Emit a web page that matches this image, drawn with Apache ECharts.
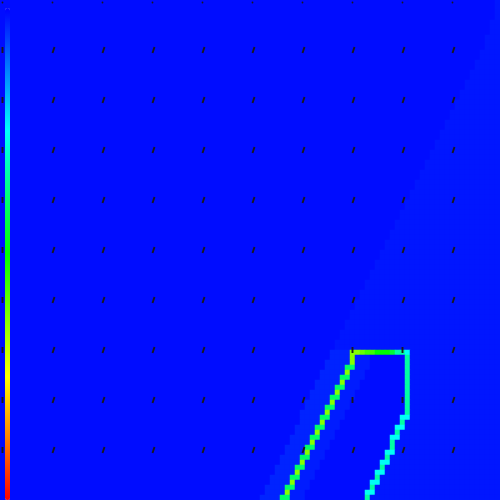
<!DOCTYPE html>
<html><head><meta charset="utf-8">
<script src="https://cdn.jsdelivr.net/npm/echarts@6/dist/echarts.min.js"></script>
<style>html,body{margin:0;padding:0;background:#fff}#c{width:500px;height:500px}</style>
</head><body><div id="c"></div>
<script>
// grid categories (100 x 100 cells), rows counted from the top
const xCategories = Array.from({length: 100}, (_, i) => i);
const yCategories = Array.from({length: 100}, (_, i) => i);

// value level codes
const levelCodes  = ['a',   'b',   'l',   'i',   'y',  'g',  's',  'c',  'h',  'j',  'k',  'm'];
const levelValues = [0.012, 0.022, 0.034, 0.027, 0.63, 0.40, 0.34, 0.26, 0.60, 0.56, 0.50, 0.45];

// run-length rows (top to bottom): code + count
const rowRuns = [
"a99 b1","a99 b1","a99 b1","a99 b1","a98 b2","a98 b2","a98 b2","a97 b3","a97 b3","a97 b3",
"a96 b4","a96 b4","a95 b5","a95 b5","a94 b6","a94 b6","a93 b7","a93 b7","a92 b8","a92 b8",
"a91 b9","a91 b9","a90 b10","a90 b10","a89 b11","a89 b11","a88 b12","a88 b12","a87 b13","a87 b13",
"a86 b14","a86 b14","a85 b15","a85 b15","a84 b16","a84 b16","a83 b17","a83 b17","a82 b18","a82 b18",
"a81 b19","a81 b19","a80 b20","a80 b20","a79 b21","a79 b21","a78 b22","a78 b22","a77 b23","a77 b23",
"a76 b24","a76 b24","a75 b25","a75 b25","a74 b26","a74 b26","a73 b27","a73 b27","a72 b28","a72 b28",
"a71 b29","a71 b29","a70 b30","a70 b30","a69 b31","a69 b31","a68 b32","a68 b32","a67 b33","a67 b33",
"a66 l4 y2 h1 j2 k3 m1 s2 c1 b18",
"a66 l4 y1 i3 a7 s1 b18",
"a65 l5 y1 i3 a7 s1 b18",
"a65 l4 g2 i3 a7 s1 b18",
"a64 l5 y1 i3 a8 s1 b18",
"a64 l4 g2 i3 a8 s1 b18",
"a63 l5 y1 i3 a9 s1 b18",
"a63 l4 g2 i3 a9 s1 b18",
"a62 l5 y1 i3 a10 s1 b18",
"a62 l4 g2 i3 a10 s1 b18",
"a61 l5 y1 i3 a11 s1 b18",
"a61 l4 g2 i3 a11 s1 b18",
"a60 l5 y1 i3 a12 s1 b18",
"a60 l4 g2 i3 a11 c2 b18",
"a60 l4 y1 i3 a12 s1 b19",
"a59 l4 g2 i3 a11 c2 b19",
"a59 l4 y1 i3 a12 s1 b20",
"a58 l4 g2 i3 a11 c2 b20",
"a58 l4 y1 i3 a12 s1 b21",
"a57 l4 g2 i3 a12 s1 b21",
"a57 l4 y1 i3 a12 c2 b21",
"a56 l4 g2 i3 a12 s1 b22",
"a56 l4 y1 i3 a12 c2 b22",
"a55 l4 g2 i3 a12 s1 b23",
"a55 l4 y1 i3 a12 c2 b23",
"a54 l4 g2 i3 a12 s1 b24",
"a54 l4 y1 i3 a12 c2 b24",
"a53 l4 g2 i3 a12 s1 b25",
"a53 l4 y1 i3 a12 c2 b25",
"a52 l4 g2 i3 a12 s1 b26"
];

// arrow grid (every 10th cell); '.' = no flow, '|' = straight up, '/' = up-right
const arrowCols = [0,10,20,30,40,50,60,70,80,90];
const arrowRows = [0,10,20,30,40,50,60,70,80,90];
const arrowKinds = [
"..........",
"|/////////",
"|/////////",
"|/////////",
"|/////////",
"|/////////",
"|/////////",
"|//////||/",
"|//////||/",
"|/////////"
];
const kindU = {'.': 0, '|': 0, '/': 0.36};
const kindV = {'.': 0, '|': 1, '/': 1};

const heatData = [];
rowRuns.forEach((row, r) => {
  let c = 0;
  row.split(' ').forEach(tok => {
    const code = tok[0], n = parseInt(tok.slice(1), 10);
    const v = levelValues[levelCodes.indexOf(code)];
    for (let k = 0; k < n; k++) { heatData.push([c, r, v]); c++; }
  });
});

const arrowData = [];
arrowRows.forEach((r, ri) => {
  arrowCols.forEach((c, ci) => {
    const k = arrowKinds[ri][ci];
    arrowData.push([c, r, kindU[k], kindV[k]]);
  });
});

const chart = echarts.init(document.getElementById('c'));
chart.setOption({
  animation: false,
  grid: {left: 0, right: 0, top: 0, bottom: 0},
  xAxis: {type: 'category', data: xCategories, show: false},
  yAxis: {type: 'category', data: yCategories, show: false, inverse: true},
  visualMap: {
    type: 'continuous', seriesIndex: 0, min: 0, max: 1, inverse: true,
    calculable: false, left: -10, top: -7, itemWidth: 5, itemHeight: 492,
    text: null, showLabel: false,
    inRange: {color: ['#0000ff', '#00ffff', '#00ff00', '#ffff00', '#ff0000']}
  },
  series: [{
    type: 'heatmap', data: heatData, progressive: 0,
    itemStyle: {borderWidth: 0}, emphasis: {disabled: true}
  }, {
    type: 'custom', data: arrowData, silent: true, z: 5,
    renderItem: function (params, api) {
      const p = api.coord([api.value(0), api.value(1)]);
      const u = api.value(2), v = api.value(3);
      const L = 5.5;
      if (u === 0 && v === 0) {
        return {type: 'circle', shape: {cx: p[0], cy: p[1], r: 0.9}, style: {fill: '#1a1a1a'}};
      }
      return {
        type: 'polyline',
        shape: {points: [[p[0], p[1] + 0.5], [p[0] + u * L, p[1] - v * L]]},
        style: {stroke: '#1a1a1a', lineWidth: 1.9, fill: null, lineCap: 'butt'}
      };
    }
  }]
});
</script></body></html>
